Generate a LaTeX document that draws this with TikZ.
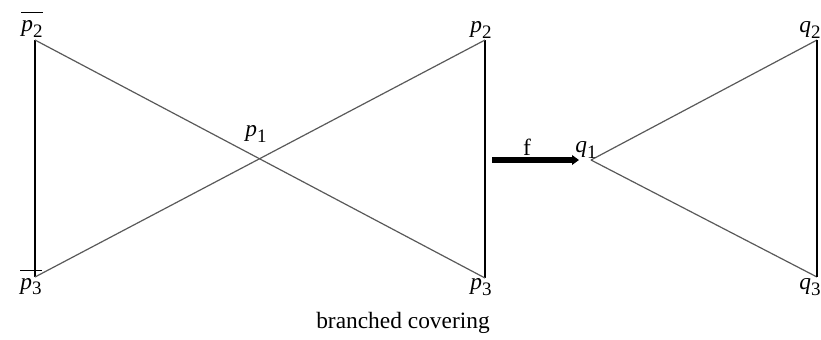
\documentclass[tikz,border=0pt]{standalone}
\usepackage{fontspec}
\setmainfont{Liberation Serif}
\usetikzlibrary{arrows.meta}
\newcommand{\lab}[2]{{\itshape #1}\raisebox{-0.55ex}{\fontsize{9.5}{9.5}\selectfont #2}}
\newcommand{\blab}[2]{$\overline{\hbox{\vphantom{l}\itshape #1\upshape\raisebox{-0.55ex}{\fontsize{9.5}{9.5}\selectfont #2}}}$}
\begin{document}
\begin{tikzpicture}[x=0.5pt,y=-0.5pt,
  diag/.style={draw=black!65,line width=0.6pt},
  vert/.style={draw=black,line width=0.8pt},
  lbl/.style={inner sep=0pt,font=\fontsize{11.7}{14}\selectfont},
  bigarrow/.style={line width=2.6pt,-{Triangle[length=3.5pt,width=4.8pt]}}]
\useasboundingbox (0,0) rectangle (821,339);
% vertices
\coordinate (pb2) at (35,40);
\coordinate (pb3) at (35,277);
\coordinate (p2) at (485,40);
\coordinate (p3) at (485,278);
\coordinate (p1) at (260,159);
\coordinate (q1) at (591,160);
\coordinate (q2) at (817,40);
\coordinate (q3) at (817,277);
\coordinate (fs) at (492,160);
\coordinate (fe) at (579,160);
% edges
\draw[vert] (pb2) -- (pb3);
\draw[vert] (p2) -- (p3);
\draw[diag] (pb2) -- (p3);
\draw[diag] (pb3) -- (p2);
\draw[diag] (q1) -- (q2);
\draw[diag] (q1) -- (q3);
\draw[vert] (q2) -- (q3);
\draw[bigarrow] (fs) -- (fe);
% labels
\node[lbl] (Lpb2) at (32,24) {\blab{p}{2}};
\node[lbl] (Lpb3) at (31,282) {\blab{p}{3}};
\node[lbl] (Lp2) at (481,30) {\lab{p}{2}};
\node[lbl] (Lp3) at (481,287) {\lab{p}{3}};
\node[lbl] (Lp1) at (256,134) {\lab{p}{1}};
\node[lbl] (Lq1) at (586,150) {\lab{q}{1}};
\node[lbl] (Lq2) at (810,30) {\lab{q}{2}};
\node[lbl] (Lq3) at (810,287) {\lab{q}{3}};
\node[lbl] (Lf) at (527,147) {f};
\node[lbl] (cap) at (403,323) {branched covering};
\end{tikzpicture}
\end{document}
